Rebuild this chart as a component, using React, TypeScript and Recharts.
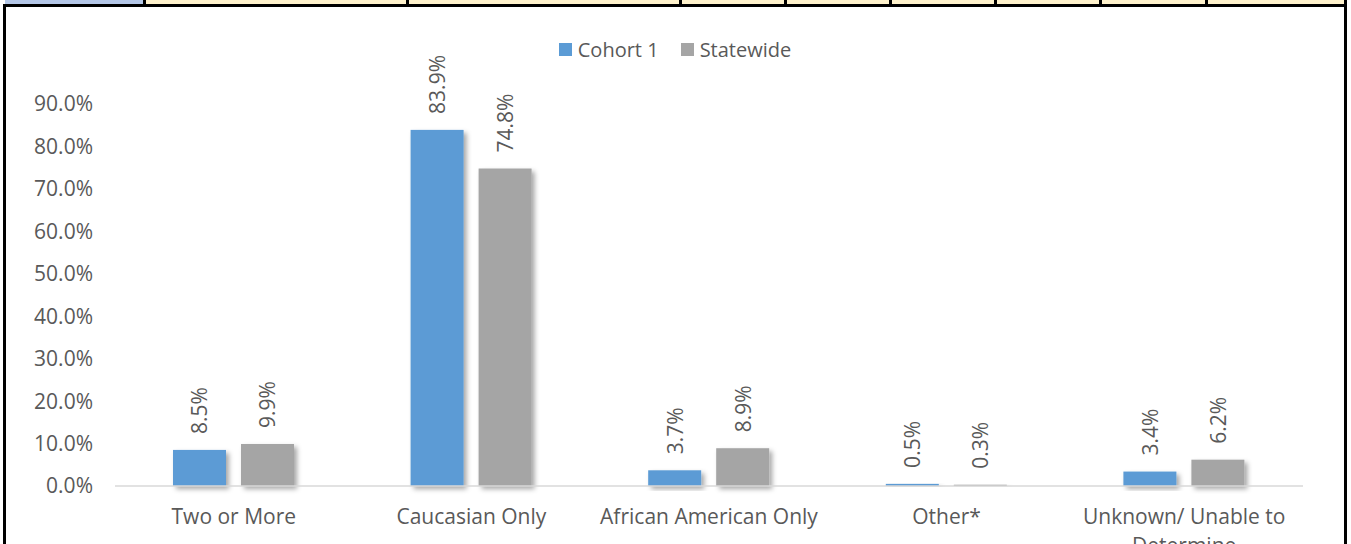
import { BarChart, Bar, XAxis, YAxis, Legend } from 'recharts';

const categories = ['Two or More', 'Caucasian Only', 'African American Only', 'Other*', 'Unknown/ Unable to Determine'];
const cohort1 = [8.5, 83.9, 3.7, 0.5, 3.4];
const statewide = [9.9, 74.8, 8.9, 0.3, 6.2];
const yTicks = [0, 10, 20, 30, 40, 50, 60, 70, 80, 90];

const data = categories.map((name, i) => ({ name, cohort1: cohort1[i], statewide: statewide[i] }));

const FONT = '"Open Sans", sans-serif';
const TEXT = '#595959';
const BLUE = '#5b9bd5';
const GREY = '#a5a5a5';

// cell dividers of the table row above the chart
const dividers = [143, 406, 679, 784, 889, 994, 1099, 1205];

function ShadowBar(props: any) {
  const { x, y, width, height, fill } = props;
  if (!height || height <= 0) return null;
  return <rect x={x} y={y} width={width} height={height} fill={fill} filter="url(#barShadow)" />;
}

function ValueLabel(props: any) {
  const { x, y, width, value } = props;
  const cx = x + width / 2;
  const by = y - 16;
  return (
    <text
      x={cx}
      y={by}
      transform={`rotate(-90 ${cx} ${by})`}
      textAnchor="start"
      dominantBaseline="central"
      fill={TEXT}
      fontSize={21}
      fontFamily={FONT}
    >
      {value.toFixed(1)}%
    </text>
  );
}

function CategoryTick(props: any) {
  const { x, y, payload } = props;
  const label: string = payload.value;
  const lines = label === 'Unknown/ Unable to Determine' ? ['Unknown/ Unable to', 'Determine'] : [label];
  return (
    <text x={x} y={y} textAnchor="middle" fill={TEXT} fontSize={21} fontFamily={FONT}>
      {lines.map((l, i) => (
        <tspan key={i} x={x} dy={i === 0 ? '0.71em' : 29}>
          {l}
        </tspan>
      ))}
    </text>
  );
}

function LegendContent() {
  const items = [
    { label: 'Cohort 1', color: BLUE },
    { label: 'Statewide', color: GREY },
  ];
  return (
    <div style={{ display: 'flex', justifyContent: 'center', gap: 22, fontFamily: FONT, fontSize: 20, color: TEXT }}>
      {items.map((it) => (
        <div key={it.label} style={{ display: 'flex', alignItems: 'center', gap: 6 }}>
          <span style={{ width: 13, height: 13, background: it.color, display: 'inline-block' }} />
          <span>{it.label}</span>
        </div>
      ))}
    </div>
  );
}

export default function App() {
  return (
    <div style={{ position: 'absolute', left: 0, top: 0, width: 1351, height: 544, background: '#fff', overflow: 'hidden' }}>
      {/* table row */}
      <div style={{ position: 'absolute', left: 5, top: 0, width: 138, height: 4, background: '#b4c7e7' }} />
      <div style={{ position: 'absolute', left: 146, top: 0, width: 1198, height: 4, background: '#fff2cc' }} />
      {dividers.map((d) => (
        <div key={d} style={{ position: 'absolute', left: d, top: 0, width: 3, height: 4, background: '#000' }} />
      ))}
      <div style={{ position: 'absolute', left: 3, top: 4, width: 1344, height: 3, background: '#000' }} />
      <div style={{ position: 'absolute', left: 3, top: 4, width: 3, height: 540, background: '#000' }} />
      <div style={{ position: 'absolute', left: 1344, top: 0, width: 3, height: 544, background: '#000' }} />

      <div style={{ position: 'absolute', left: 6, top: 7 }}>
        <BarChart
          width={1338}
          height={560}
          data={data}
          margin={{ top: 97, right: 41, bottom: 0, left: 0 }}
          barCategoryGap={58}
          barGap={15}
        >
          <defs>
            <filter id="barShadow" x="-20%" y="-20%" width="150%" height="150%">
              <feDropShadow dx={3} dy={3} stdDeviation={2.5} floodColor="#000" floodOpacity={0.35} />
            </filter>
          </defs>
          <XAxis
            dataKey="name"
            axisLine={{ stroke: '#d9d9d9', strokeWidth: 1.5 }}
            tickLine={false}
            tickSize={0}
            tickMargin={23}
            height={81}
            interval={0}
            tick={<CategoryTick />}
          />
          <YAxis
            domain={[0, 90]}
            ticks={yTicks}
            axisLine={false}
            tickLine={false}
            tickSize={0}
            tickMargin={22}
            width={109}
            tickFormatter={(v: number) => `${v.toFixed(1)}%`}
            tick={{ fill: TEXT, fontSize: 21, fontFamily: FONT }}
          />
          <Legend
            verticalAlign="middle"
            layout="horizontal"
            content={<LegendContent />}
            wrapperStyle={{ top: 29, left: 0, width: 1338 }}
          />
          <Bar dataKey="cohort1" name="Cohort 1" fill={BLUE} isAnimationActive={false} shape={<ShadowBar />} label={<ValueLabel />} />
          <Bar dataKey="statewide" name="Statewide" fill={GREY} isAnimationActive={false} shape={<ShadowBar />} label={<ValueLabel />} />
        </BarChart>
      </div>
    </div>
  );
}
